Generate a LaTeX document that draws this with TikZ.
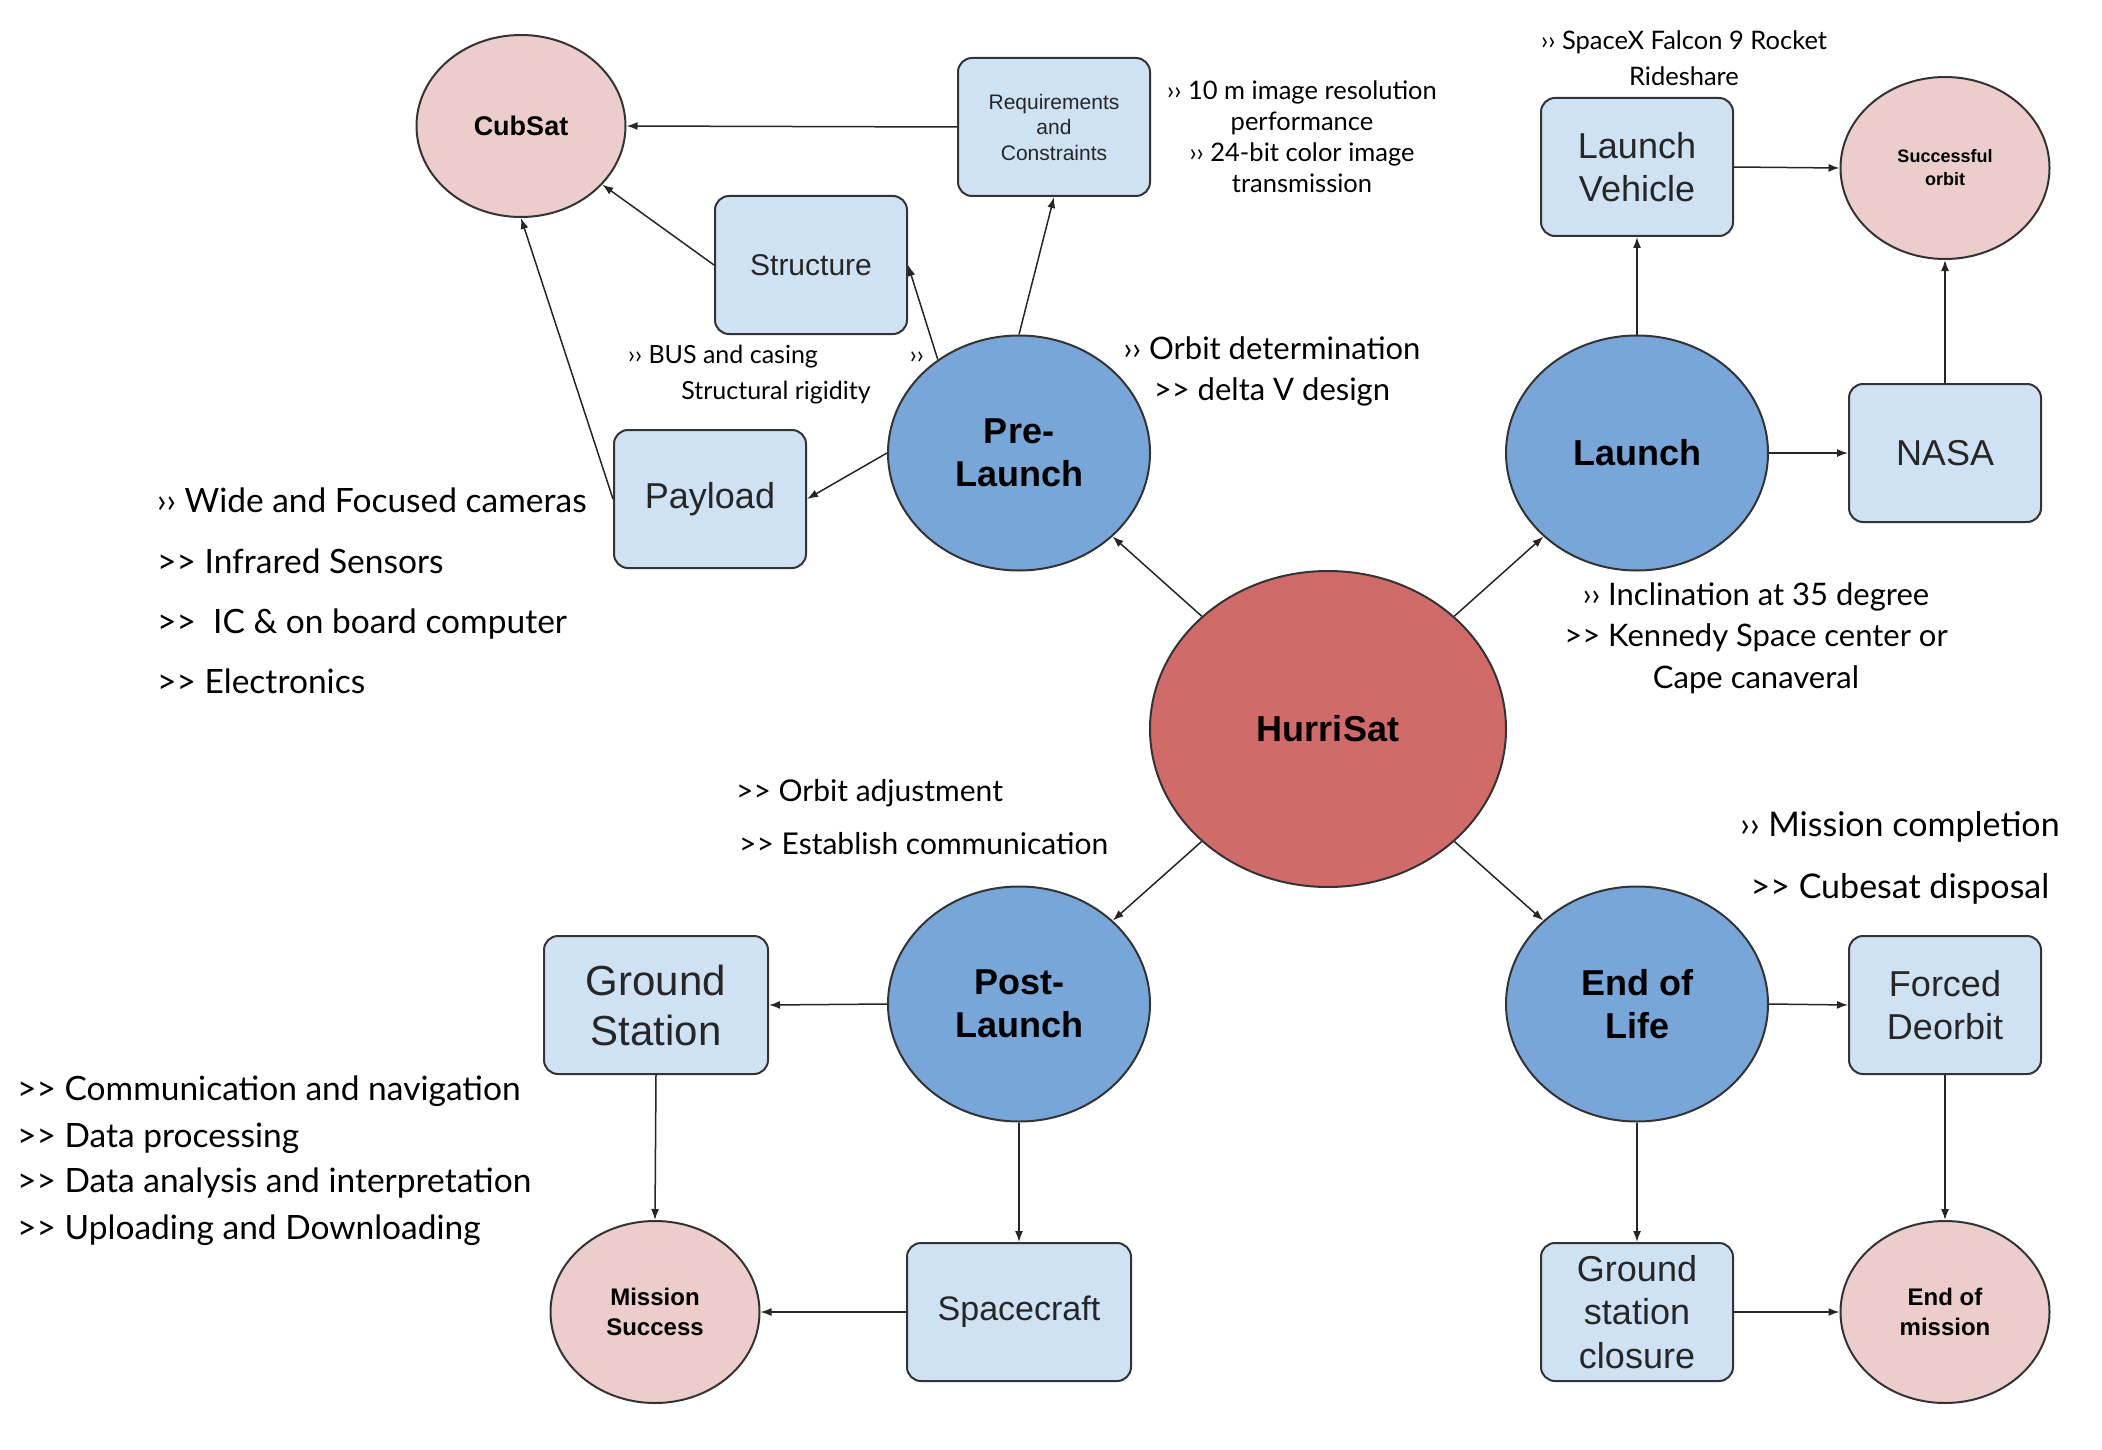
\documentclass[tikz,border=0pt]{standalone}
\usepackage{fontspec}
\setmainfont{Lato}[Ligatures=TeXOff]
\newfontfamily\arial{Liberation Sans}
\usetikzlibrary{shapes.geometric,arrows.meta}
\definecolor{hubc}{HTML}{D16B69}
\definecolor{phasec}{HTML}{78A6D8}
\definecolor{boxc}{HTML}{CFE2F3}
\definecolor{pinkc}{HTML}{EDCDCC}
\definecolor{edgec}{HTML}{333333}
\newcommand\fsz[2]{\fontsize{#1}{#2}\selectfont}
\tikzset{
 circ/.style={ellipse, draw=edgec, line width=2pt, inner sep=0pt, align=center},
 hub/.style={circ, fill=hubc, minimum width=356pt, minimum height=316pt, font=\arial\bfseries\fsz{36}{43}},
 phase/.style={circ, fill=phasec, minimum width=262pt, minimum height=235pt, font=\arial\bfseries\fsz{36}{43}},
 goal/.style={circ, fill=pinkc, minimum width=209pt, minimum height=182pt},
 box/.style={rectangle, rounded corners=14pt, draw=edgec, line width=2pt, fill=boxc, inner sep=0pt, text=black!85, align=center, minimum width=192pt, minimum height=138pt},
 arr/.style={-{Latex[length=11pt,width=8pt]}, line width=1.5pt, draw=black!85},
 note/.style={inner sep=0pt, text=black},
}
\begin{document}
\begin{tikzpicture}[x=1pt,y=-1pt]
\useasboundingbox[fill=white] (0,0) rectangle (2102,1450);

% main nodes
\node[hub] (hurri) at (1328,729) {HurriSat};
\node[phase] (pre) at (1019,453) {Pre-\\Launch};
\node[phase] (launch) at (1637,453) {Launch};
\node[phase] (post) at (1019,1004) {Post-\\Launch};
\node[phase] (eol) at (1637,1004) {End of\\Life};

\node[goal, font=\arial\bfseries\fsz{27}{33}] (cubsat) at (521,126) {CubSat};
\node[goal, font=\arial\bfseries\fsz{18}{23}] (orbitok) at (1945,168) {Successful\\orbit};
\node[goal, font=\arial\bfseries\fsz{24}{29.5}] (msuccess) at (655,1312) {Mission\\Success};
\node[goal, font=\arial\bfseries\fsz{24}{29.5}] (endmission) at (1945,1312) {End of\\mission};

\node[box, font=\arial\fsz{21}{25.5}] (req) at (1054,127) {Requirements\\and\\Constraints};
\node[box, font=\arial\fsz{30}{36}] (structure) at (811,265) {Structure};
\node[box, font=\arial\fsz{36}{43}] (payload) at (710,499) {Payload};
\node[box, font=\arial\fsz{36}{43}] (vehicle) at (1637,167) {Launch\\Vehicle};
\node[box, font=\arial\fsz{36}{43}] (nasa) at (1945,453) {NASA};
\node[box, font=\arial\fsz{42}{50}, minimum width=224pt] (gstation) at (656,1005) {Ground\\Station};
\node[box, font=\arial\fsz{34}{41}, minimum width=224pt] (spacecraft) at (1019,1312) {Spacecraft};
\node[box, font=\arial\fsz{36}{43}] (deorbit) at (1945,1005) {Forced\\Deorbit};
\node[box, font=\arial\fsz{36}{43.5}] (closure) at (1637,1312) {Ground\\station\\closure};

% connectors
\draw[arr] (hurri) -- (pre);
\draw[arr] (hurri) -- (launch);
\draw[arr] (hurri) -- (post);
\draw[arr] (hurri) -- (eol);

\draw[arr] (pre.west) -- (payload.east);
\draw[arr] (pre.131) -- (structure.east);
\draw[arr] (pre.north) -- (req.south);
\draw[arr] (req.west) -- (cubsat.east);
\draw[arr] (structure.west) -- (cubsat);
\draw[arr] (payload.west) -- (cubsat.south);

\draw[arr] (launch.north) -- (vehicle.south);
\draw[arr] (launch.east) -- (nasa.west);
\draw[arr] (vehicle.east) -- (orbitok.west);
\draw[arr] (nasa.north) -- (orbitok.south);

\draw[arr] (post.west) -- (gstation.east);
\draw[arr] (post.south) -- (spacecraft.north);
\draw[arr] (spacecraft.west) -- (msuccess.east);
\draw[arr] (gstation.south) -- (msuccess.north);

\draw[arr] (eol.east) -- (deorbit.west);
\draw[arr] (eol.south) -- (closure.north);
\draw[arr] (deorbit.south) -- (endmission.north);
\draw[arr] (closure.east) -- (endmission.west);

% annotations
\node[note, align=center, font=\fsz{25.5}{31}] (reqnote) at (1302,137) {›› 10 m image resolution\\performance\\›› 24-bit color image\\transmission};
\node[note, align=center, font=\fsz{25.5}{36}] (spacexnote) at (1684,58) {›› SpaceX Falcon 9 Rocket\\Rideshare};
\node[note, align=center, font=\fsz{25}{36}] (busnote) at (776,375) {\makebox[296pt]{›› BUS and casing\hfill››}\\Structural rigidity};
\node[note, align=center, font=\fsz{31}{41}] (orbitnote) at (1272,371) {›› Orbit determination\\>> delta V design};

\node[note, anchor=base west, font=\fsz{33.5}{38}] (pay1) at (157,512) {›› Wide and Focused cameras};
\node[note, anchor=base west, font=\fsz{33.5}{38}] (pay2) at (157,573) {>> Infrared Sensors};
\node[note, anchor=base west, font=\fsz{33.5}{38}] (pay3) at (157,633) {>>\ \ IC \& on board computer};
\node[note, anchor=base west, font=\fsz{33.5}{38}] (pay4) at (157,693) {>> Electronics};

\node[note, align=center, font=\fsz{31}{41.5}] (launchnote) at (1756,638) {›› Inclination at 35 degree\\>> Kennedy Space center or\\Cape canaveral};

\node[note, anchor=base west, font=\fsz{30}{36}] (post1) at (736,801) {>> Orbit adjustment};
\node[note, anchor=base west, font=\fsz{30}{36}] (post2) at (739,854) {>> Establish communication};

\node[note, align=center, font=\fsz{34}{62}] (eolnote) at (1900,858) {›› Mission completion\\>> Cubesat disposal};

\node[note, anchor=base west, font=\fsz{33.5}{38}] (gs1) at (17,1100) {>> Communication and navigation};
\node[note, anchor=base west, font=\fsz{33.5}{38}] (gs2) at (17,1147) {>> Data processing};
\node[note, anchor=base west, font=\fsz{33.5}{38}] (gs3) at (17,1192) {>> Data analysis and interpretation};
\node[note, anchor=base west, font=\fsz{33.5}{38}] (gs4) at (17,1239) {>> Uploading and Downloading};
\end{tikzpicture}
\end{document}
